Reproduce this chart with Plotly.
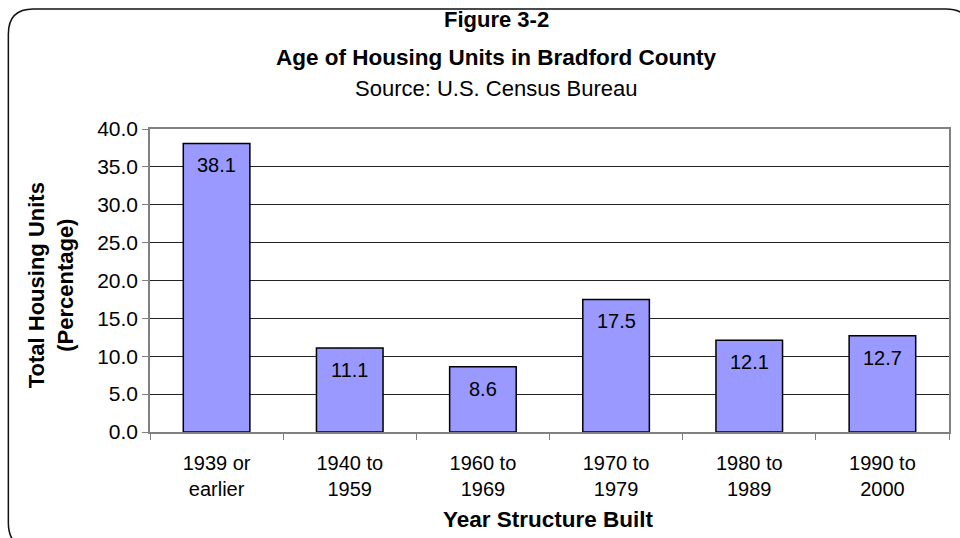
import plotly.graph_objects as go

# ---- data ----
categories = ["1939 or earlier", "1940 to 1959", "1960 to 1969",
              "1970 to 1979", "1980 to 1989", "1990 to 2000"]
tick_labels = ["1939 or<br>earlier", "1940 to<br>1959", "1960 to<br>1969",
               "1970 to<br>1979", "1980 to<br>1989", "1990 to<br>2000"]
values = [38.1, 11.1, 8.6, 17.5, 12.1, 12.7]
y_ticks = [0, 5, 10, 15, 20, 25, 30, 35, 40]
y_tick_labels = ["%.1f" % v for v in y_ticks]

title_lines = ["Figure 3-2", "Age of Housing Units in Bradford County"]
subtitle = "Source: U.S. Census Bureau"
x_title = "Year Structure Built"
y_title = "Total Housing Units<br>(Percentage)"

W, H = 960, 538
L, R, T, B = 150, 9, 129, 106
PW, PH = W - L - R, H - T - B


def px(x):
    return (x - L) / PW


def py(y):
    return (H - B - y) / PH


FONT = "Arial, Liberation Sans, sans-serif"

fig = go.Figure()
fig.add_trace(go.Bar(
    x=categories, y=values,
    marker=dict(color="#9999FF", line=dict(color="#000000", width=1.5)),
    width=0.5,
    hoverinfo="x+y",
))

annotations = []
for c, v in zip(categories, values):
    annotations.append(dict(x=c, y=v, xref="x", yref="y", text="%.1f" % v,
                            showarrow=False, yanchor="middle", yshift=-22,
                            font=dict(family=FONT, size=20, color="black")))

annotations += [
    dict(x=px(497), y=py(19), xref="paper", yref="paper", text="<b>%s</b>" % title_lines[0],
         showarrow=False, xanchor="center", yanchor="middle",
         font=dict(family=FONT, size=22, color="black")),
    dict(x=px(497), y=py(58), xref="paper", yref="paper", text="<b>%s</b>" % title_lines[1],
         showarrow=False, xanchor="center", yanchor="middle",
         font=dict(family=FONT, size=22.5, color="black")),
    dict(x=px(497), y=py(88), xref="paper", yref="paper", text=subtitle,
         showarrow=False, xanchor="center", yanchor="middle",
         font=dict(family=FONT, size=22, color="black")),
    dict(x=px(549), y=py(519), xref="paper", yref="paper", text="<b>%s</b>" % x_title,
         showarrow=False, xanchor="center", yanchor="middle",
         font=dict(family=FONT, size=22.5, color="black")),
    dict(x=px(51), y=py(285), xref="paper", yref="paper", text="<b>%s</b>" % y_title,
         showarrow=False, xanchor="center", yanchor="middle", textangle=-90,
         font=dict(family=FONT, size=22, color="black")),
]

# rounded outer border
pts = [(33, 548), (8, 548), (8, 523), (8, 34), (8, 9), (33, 9), (948, 9), (973, 9), (973, 34), (973, 560)]
def P(p):
    return "%f,%f" % (px(p[0]), py(p[1]))
path = ("M " + P(pts[0]) + " Q " + P(pts[1]) + " " + P(pts[2]) + " L " + P(pts[3]) +
        " Q " + P(pts[4]) + " " + P(pts[5]) + " L " + P(pts[6]) + " Q " + P(pts[7]) + " " +
        P(pts[8]) + " L " + P(pts[9]))

fig.update_layout(
    width=W, height=H,
    margin=dict(l=L, r=R, t=T, b=B),
    paper_bgcolor="white", plot_bgcolor="white",
    showlegend=False,
    bargap=0.5,
    annotations=annotations,
    shapes=[dict(type="path", path=path, xref="paper", yref="paper",
                 line=dict(color="#111111", width=1.5), layer="above")],
    font=dict(family=FONT, color="black"),
)
fig.update_xaxes(
    tickvals=categories, ticktext=tick_labels,
    tickson="boundaries", ticks="outside", ticklen=6, tickcolor="#808080",
    showline=True, linecolor="#808080", linewidth=1.5, mirror=True,
    showgrid=False, tickfont=dict(family=FONT, size=20, color="black"),
    ticklabelstandoff=12,
)
fig.update_yaxes(
    range=[0, 40], tickvals=y_ticks, ticktext=y_tick_labels,
    ticks="outside", ticklen=6, tickcolor="#808080",
    showline=True, linecolor="#808080", linewidth=1.5, mirror=True,
    showgrid=True, gridcolor="#222222", gridwidth=1, zeroline=False,
    tickfont=dict(family=FONT, size=21, color="black"),
)

fig.write_html("out.html", config={"displayModeBar": False},
               post_script="document.body.style.margin='0';document.body.style.overflow='hidden';")
